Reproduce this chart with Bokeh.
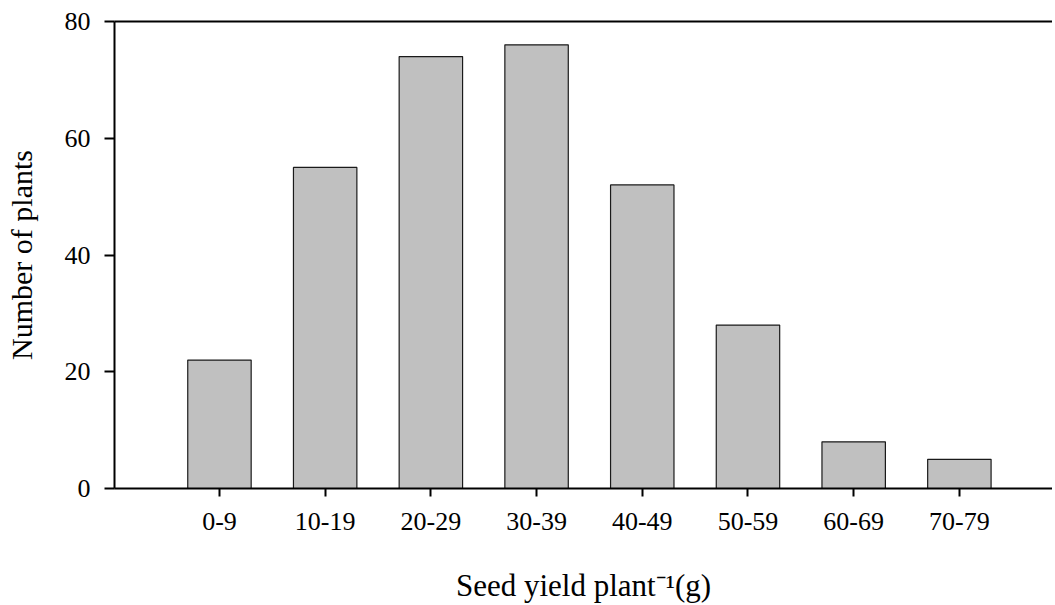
from bokeh.plotting import figure
from bokeh.models import Range1d, FixedTicker, LinearAxis
from bokeh.embed import file_html
from bokeh.resources import INLINE

categories = ["0-9", "10-19", "20-29", "30-39", "40-49", "50-59", "60-69", "70-79"]
counts = [22, 55, 74, 76, 52, 28, 8, 5]
y_ticks = [0, 20, 40, 60, 80]

xs = list(range(1, len(categories) + 1))
FONT = "Liberation Serif"

p = figure(width=1052, height=605, output_backend="svg", toolbar_location=None,
           x_range=Range1d(0.007, 8.881), y_range=Range1d(0, 80),
           min_border_left=114, min_border_right=0, min_border_top=21, min_border_bottom=117)
p.outline_line_color = None
p.grid.visible = False
p.background_fill_color = "white"
p.border_fill_color = "white"

p.vbar(x=xs, top=counts, width=0.6, bottom=0, fill_color="#c0c0c0",
       line_color="#1a1a1a", line_width=1.2)

xa = p.xaxis[0]
xa.ticker = FixedTicker(ticks=xs)
xa.major_label_overrides = {i: c for i, c in zip(xs, categories)}
xa.axis_label = "Seed yield plant\u207b\u00b9(g)"
ya = p.yaxis[0]
ya.ticker = FixedTicker(ticks=y_ticks)
ya.axis_label = "Number of plants"

for ax in (xa, ya):
    ax.axis_line_width = 2
    ax.axis_line_color = "black"
    ax.major_tick_line_width = 2
    ax.major_tick_line_color = "black"
    ax.major_tick_in = 0
    ax.minor_tick_line_color = None
    ax.major_label_text_font = FONT
    ax.major_label_text_font_size = "26px"
    ax.major_label_text_color = "black"
    ax.axis_label_text_font = FONT
    ax.axis_label_text_font_size = "30px"
    ax.axis_label_text_font_style = "normal"
    ax.axis_label_text_color = "black"

xa.axis_label_text_font_size = "31px"
xa.major_tick_out = 8
xa.major_label_standoff = 16
xa.axis_label_standoff = 35
ya.major_tick_out = 10
ya.major_label_standoff = 14
ya.axis_label_standoff = 24

top = LinearAxis(ticker=FixedTicker(ticks=[]), axis_line_width=2, axis_line_color="black",
                 major_tick_line_color=None, minor_tick_line_color=None,
                 major_label_text_font_size="0px")
p.add_layout(top, "above")

open("out.html", "w").write(file_html(p, INLINE))
